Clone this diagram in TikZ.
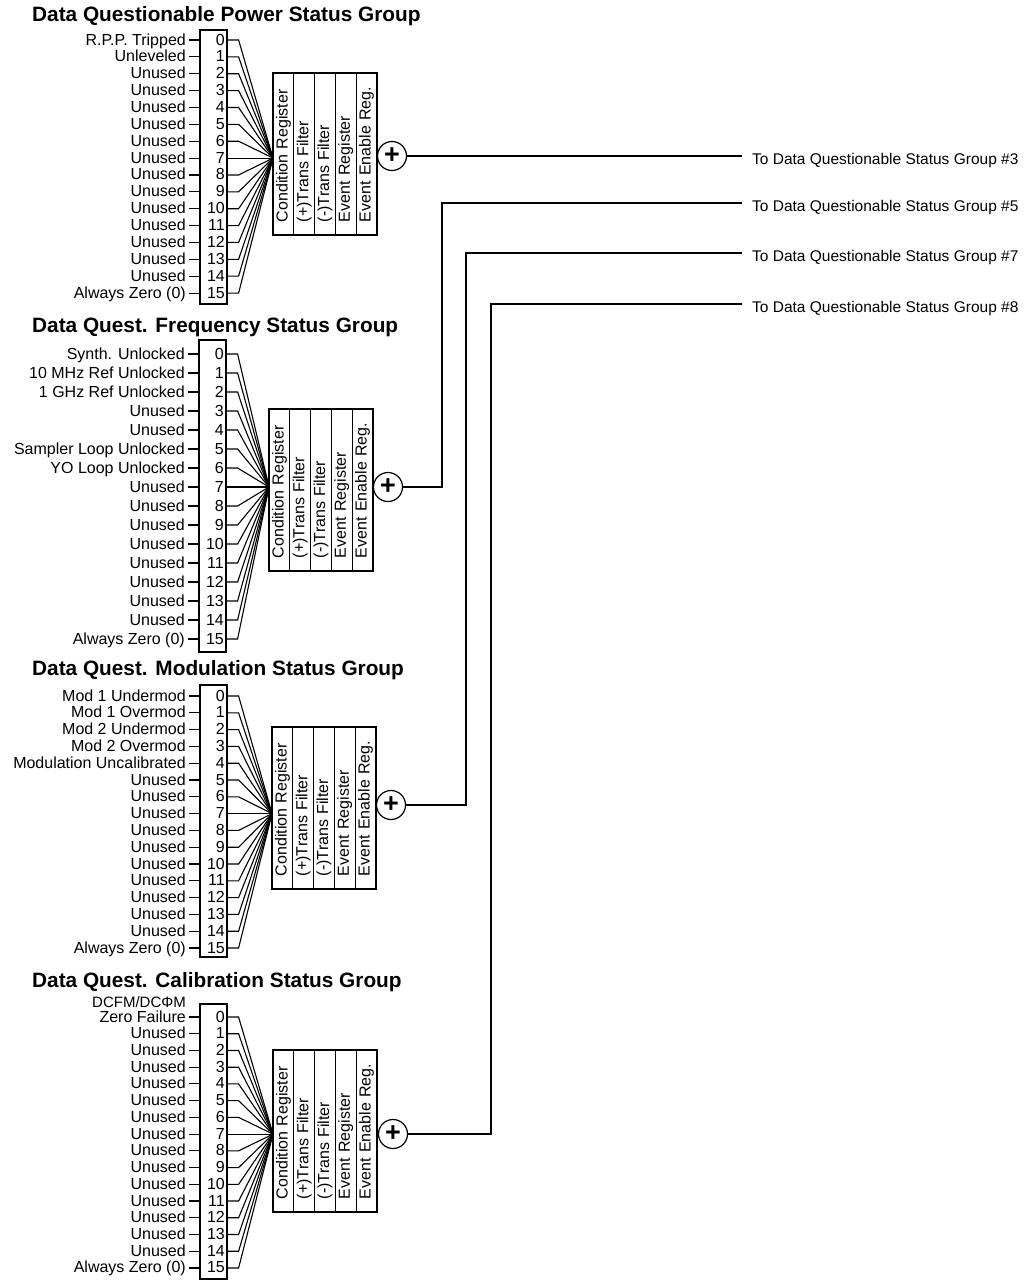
\documentclass[tikz,border=0pt]{standalone}
\usepackage{fontspec}
\setmainfont{Liberation Sans}
\usetikzlibrary{positioning,calc}

\begin{document}
\begin{tikzpicture}[
  x=1pt, y=-1pt,
  wire/.style={line width=1.1pt},
  title/.style={anchor=base west, inner sep=0pt, font=\bfseries\fontsize{20.8}{24}\selectfont},
  bitlabel/.style={anchor=base east, yshift=-5pt, inner sep=0pt, font=\fontsize{16}{18}\selectfont},
  bitnum/.style={anchor=base east, yshift=-5pt, inner sep=0pt, font=\fontsize{16}{18}\selectfont},
  bitbox/.style={draw, line width=1.2pt, minimum width=27pt, inner sep=0pt},
  regcol/.style={draw, line width=1.2pt, rotate=90, minimum height=20.8pt, text width=136pt,
                 inner xsep=13pt, inner ysep=0pt, align=left, font=\fontsize{16}{18}\selectfont},
  sumnode/.style={draw, circle, line width=1.2pt, minimum size=29pt, inner sep=0pt,
                  font=\bfseries\fontsize{27}{27}\selectfont},
  outlabel/.style={anchor=base west, inner xsep=10pt, inner ysep=0pt, font=\fontsize{15.5}{18}\selectfont}
]
  \useasboundingbox (0,0) rectangle (1026,1280);

  % Group titles
  \node[title] (t1) at (32,21) {Data Questionable Power Status Group};
  \node[title] (t2) at (32,332) {Data Quest. Frequency Status Group};
  \node[title] (t3) at (32,675) {Data Quest. Modulation Status Group};
  \node[title] (t4) at (32,987) {Data Quest. Calibration Status Group};

  % Bit boxes, register columns and summing nodes
  \foreach \g/\ya/\dy/\bl/\bt/\bb/\rl/\rt/\sx/\sy in
    {1/40/16.87/200/30/304/273/73/392/156,
     2/354/19/199/340/652/269/409/388/487,
     3/696/16.8/200/685/957/272/727/391/805,
     4/1017/16.73/200/1004/1279/273/1050/393/1134}{
    \node[bitbox, minimum height={\bb-\bt}] (bx\g) at ({\bl+13.5},{(\bt+\bb)/2}) {};
    \foreach \i in {0,...,15}{
      \coordinate (r\g-\i) at (\bl,{\ya+\i*\dy});
      \node[bitnum] (b\g-\i) at ($(r\g-\i)+(25,0)$) {\i};
    }
    \foreach \txt [count=\k] in {Condition Register, {(+)Trans Filter}, {(-)Trans Filter},
                                 Event Register, Event Enable Reg.}
      \node[regcol] (c\g-\k) at ({\rl+20.8*(\k-0.5)},{\rt+81}) {\mbox{\txt}};
    \coordinate (cv\g) at (\rl,{\ya+7*\dy});
    \foreach \i in {0,...,15}
      \draw[wire] (r\g-\i -| bx\g.east) -- ++(11,0) -- (cv\g);
    \node[sumnode] (sum\g) at (\sx,\sy) {+};
  }

  % Bit labels: power
  \foreach \lab [count=\i from 0] in {R.P.P. Tripped, Unleveled, Unused, Unused, Unused, Unused,
      Unused, Unused, Unused, Unused, Unused, Unused, Unused, Unused, Unused, Always Zero (0)}{
    \node[bitlabel] (l1-\i) at ($(r1-\i)+(-14,0)$) {\lab};
    \draw[wire] ($(l1-\i.east |- r1-\i)+(3,0)$) -- (r1-\i);
  }

  % Bit labels: frequency
  \foreach \lab [count=\i from 0] in {Synth. Unlocked, 10 MHz Ref Unlocked, 1 GHz Ref Unlocked,
      Unused, Unused, Sampler Loop Unlocked, YO Loop Unlocked, Unused, Unused, Unused, Unused,
      Unused, Unused, Unused, Unused, Always Zero (0)}{
    \node[bitlabel] (l2-\i) at ($(r2-\i)+(-14,0)$) {\lab};
    \draw[wire] ($(l2-\i.east |- r2-\i)+(3,0)$) -- (r2-\i);
  }

  % Bit labels: modulation
  \foreach \lab [count=\i from 0] in {Mod 1 Undermod, Mod 1 Overmod, Mod 2 Undermod, Mod 2 Overmod,
      Modulation Uncalibrated, Unused, Unused, Unused, Unused, Unused, Unused, Unused, Unused,
      Unused, Unused, Always Zero (0)}{
    \node[bitlabel] (l3-\i) at ($(r3-\i)+(-14,0)$) {\lab};
    \draw[wire] ($(l3-\i.east |- r3-\i)+(3,0)$) -- (r3-\i);
  }

  % Bit labels: calibration
  \foreach \lab [count=\i from 0] in {Zero Failure, Unused, Unused, Unused, Unused, Unused,
      Unused, Unused, Unused, Unused, Unused, Unused, Unused, Unused, Unused, Always Zero (0)}{
    \node[bitlabel] (l4-\i) at ($(r4-\i)+(-14,0)$) {\lab};
    \draw[wire] ($(l4-\i.east |- r4-\i)+(3,0)$) -- (r4-\i);
  }
  \node[anchor=base east, inner sep=0pt, font=\fontsize{15}{16}\selectfont] (l4-top)
    at ($(l4-0.north east)+(0,-3)$) {DCFM/DCΦM};

  % Outputs
  \coordinate (e1) at (742,156);
  \coordinate (e2) at (742,203);
  \coordinate (e3) at (742,253);
  \coordinate (e4) at (742,304);
  \coordinate (k2) at (442,203);
  \coordinate (k3) at (466,253);
  \coordinate (k4) at (491,304);
  \node[outlabel] (o1) at ($(e1)+(0,8)$) {To Data Questionable Status Group \#3};
  \node[outlabel] (o2) at ($(e2)+(0,8)$) {To Data Questionable Status Group \#5};
  \node[outlabel] (o3) at ($(e3)+(0,8)$) {To Data Questionable Status Group \#7};
  \node[outlabel] (o4) at ($(e4)+(0,8)$) {To Data Questionable Status Group \#8};
  \draw[wire] (sum1) -- (e1);
  \draw[wire] (sum2) -| (k2) -- (e2);
  \draw[wire] (sum3) -| (k3) -- (e3);
  \draw[wire] (sum4) -| (k4) -- (e4);
\end{tikzpicture}
\end{document}
